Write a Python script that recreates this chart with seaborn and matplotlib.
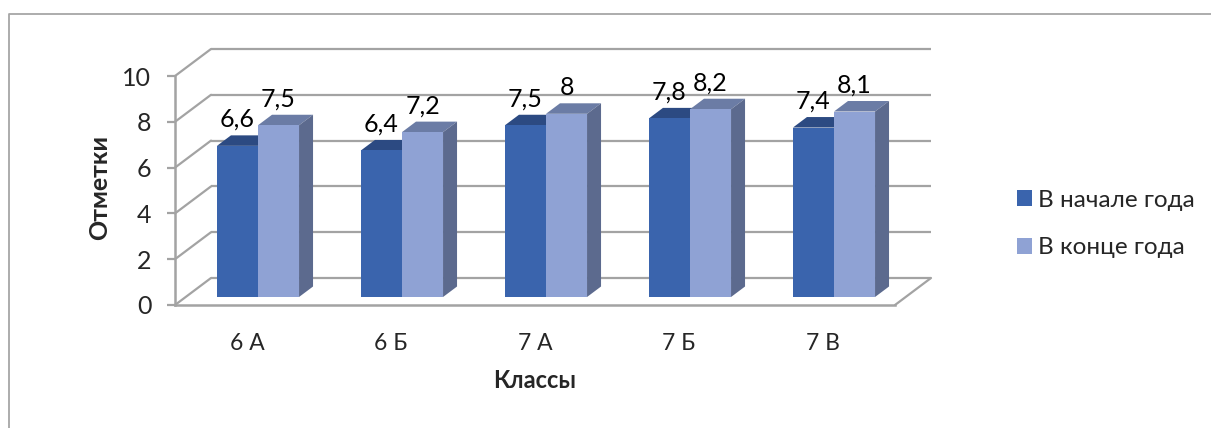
import matplotlib
matplotlib.use("Agg")
import matplotlib.pyplot as plt
import pandas as pd
import seaborn as sns
from matplotlib.lines import Line2D
from matplotlib.patches import Patch, Polygon
from matplotlib.transforms import Affine2D

classes = ["6 А", "6 Б", "7 А", "7 Б", "7 В"]
start_year = [6.6, 6.4, 7.5, 7.8, 7.4]
end_year = [7.5, 7.2, 8, 8.2, 8.1]
start_labels = ["6,6", "6,4", "7,5", "7,8", "7,4"]
end_labels = ["7,5", "7,2", "8", "8,2", "8,1"]
series_names = ["В начале года", "В конце года"]
y_ticks = [0, 2, 4, 6, 8, 10]

front_colors = ["#3A64AD", "#8FA2D4"]
top_colors = ["#2C4A82", "#6B7CA5"]
side_colors = ["#2C4A82", "#5C6A8E"]
grid_color = "#A3A3A3"

sns.set_style("white")
plt.rcParams["font.family"] = ["Lato", "Noto Sans", "DejaVu Sans"]

W, H = 1211, 428
fig = plt.figure(figsize=(W / 100, H / 100), dpi=100)
# front plane of the fake 3d box, in pixels
ax = fig.add_axes([175 / W, 1 - 305 / H, 720 / W, 229 / H])

df = pd.DataFrame({
    "Классы": classes * 2,
    "Отметки": start_year + end_year,
    "Период": [series_names[0]] * 5 + [series_names[1]] * 5,
})
sns.barplot(data=df, x="Классы", y="Отметки", hue="Период", palette=front_colors,
            width=0.57, gap=0, saturation=1, legend=False, ax=ax, zorder=5)

ax.set_xlim(-0.5, 4.5)
ax.set_ylim(0, 10)
ax.set_yticks(y_ticks)
sns.despine(ax=ax, top=True, right=True)

px_x = 144  # pixels per category
px_y = 22.9  # pixels per mark

# back wall and side wall
back_dx, back_dy = 36 / px_x, 27 / px_y
ax.hlines(y_ticks, -0.5 + back_dx, 4.5 + back_dx, color=grid_color, lw=1.6,
          zorder=1, clip_on=False, transform=ax.transData + Affine2D().translate(0, 27))
for t in y_ticks:
    ax.plot([-0.5, -0.5 + back_dx], [t, t + back_dy], color=grid_color, lw=1.6,
            clip_on=False, zorder=1)
ax.plot([4.5, 4.5 + back_dx], [0, back_dy], color=grid_color, lw=1.6, clip_on=False, zorder=1)

# bars sit a little inside the box, extrude them by hand
shift = ax.transData + Affine2D().translate(11, 8)
dx, dy = 14 / px_x, 10.5 / px_y
all_labels = [start_labels, end_labels]
for i, cont in enumerate(ax.containers):
    for bar, lab in zip(cont, all_labels[i]):
        x0, w, h = bar.get_x(), bar.get_width(), bar.get_height()
        bar.set_transform(shift)
        bar.set_clip_on(False)
        bar.set_linewidth(0)
        top = Polygon([(x0, h), (x0 + dx, h + dy), (x0 + w + dx, h + dy), (x0 + w, h)],
                      fc=top_colors[i], ec="none", transform=shift, clip_on=False, zorder=3)
        side = Polygon([(x0 + w, 0), (x0 + w + dx, dy), (x0 + w + dx, h + dy), (x0 + w, h)],
                       fc=side_colors[i], ec="none", transform=shift, clip_on=False, zorder=3)
        ax.add_patch(top)
        ax.add_patch(side)
        ax.annotate(lab, xy=(x0 + w / 2, h), xycoords=shift, xytext=(0, 19),
                    textcoords="offset points", ha="center", va="center",
                    fontsize=18, color="black", zorder=6, annotation_clip=False)

for s in ["left", "bottom"]:
    ax.spines[s].set_color(grid_color)
    ax.spines[s].set_linewidth(1.8)
ax.tick_params(axis="y", length=6, width=1.6, color=grid_color, labelsize=18, pad=11, left=True)
ax.tick_params(axis="x", length=0, labelsize=16.5, pad=20)

ax.set_xlabel("")
ax.set_ylabel("")
fig.text(535 / W, 1 - 380 / H, "Классы", ha="center", va="center", fontsize=17, fontweight="bold")
fig.text(100 / W, 1 - 188 / H, "Отметки", ha="center", va="center", rotation=90,
         fontsize=18, fontweight="bold")

handles = [Patch(fc=c, ec="none") for c in front_colors]
fig.legend(handles, series_names, loc="upper left", bbox_to_anchor=(1017 / W, 1 - 189.5 / H),
           frameon=False, fontsize=17.5, handlelength=0.62, handleheight=0.62, handletextpad=0.25,
           labelspacing=1.1, borderpad=0, borderaxespad=0)

# chart area border, only left and top are in the picture
fig.add_artist(Line2D([8.5 / W, 8.5 / W, 1], [0, 1 - 13.5 / H, 1 - 13.5 / H],
                      color="#A6A6A6", lw=1.3))

fig.savefig("out.png", dpi=100)
